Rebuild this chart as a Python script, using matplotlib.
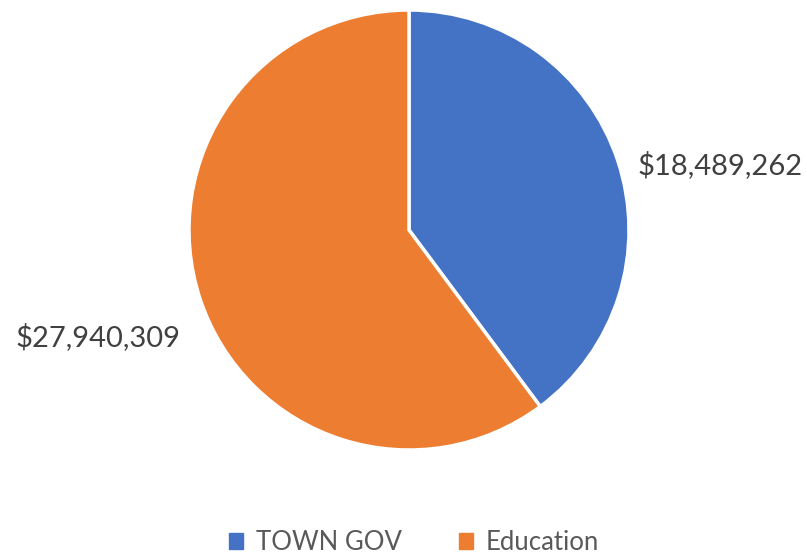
import matplotlib
matplotlib.use("Agg")
import matplotlib.pyplot as plt
import numpy as np

categories = ["TOWN GOV", "Education"]
values = [18489262, 27940309]
colors = ["#4472C4", "#ED7D31"]

plt.rcParams['font.family'] = ['Lato', 'DejaVu Sans']

W, H = 807, 556
fig = plt.figure(figsize=(W / 100, H / 100), dpi=100)
cx, cy, r = 409, 230, 220
ax = fig.add_axes([(cx - r) / W, 1 - (cy + r) / H, 2 * r / W, 2 * r / H])
wedges, _ = ax.pie(values, colors=colors, startangle=90, counterclock=False,
                   wedgeprops=dict(edgecolor="white", linewidth=2.5))
ax.set_xlim(-1, 1)
ax.set_ylim(-1, 1)
ax.set_aspect("equal")

for w, v in zip(wedges, values):
    mid = np.deg2rad((w.theta1 + w.theta2) / 2)
    x, y = np.cos(mid), np.sin(mid)
    if x > 0:
        tx, ha = 1.04, "left"
        ty = y * 0.94
    else:
        tx, ha = -1.04, "right"
        ty = y * 1.55
    ax.text(tx, ty, f"${v:,.0f}", ha=ha, va="center", fontsize=21, color="#404040")

handles = [plt.Rectangle((0, 0), 1, 1, color=c) for c in colors]
fig.legend(handles, categories, loc="lower center", bbox_to_anchor=(0.513, -0.04),
           ncol=2, frameon=False, fontsize=18.5, labelcolor="#595959",
           handlelength=0.55, handleheight=0.55, handletextpad=0.5, columnspacing=2.2)

fig.savefig("out.png", dpi=100)
